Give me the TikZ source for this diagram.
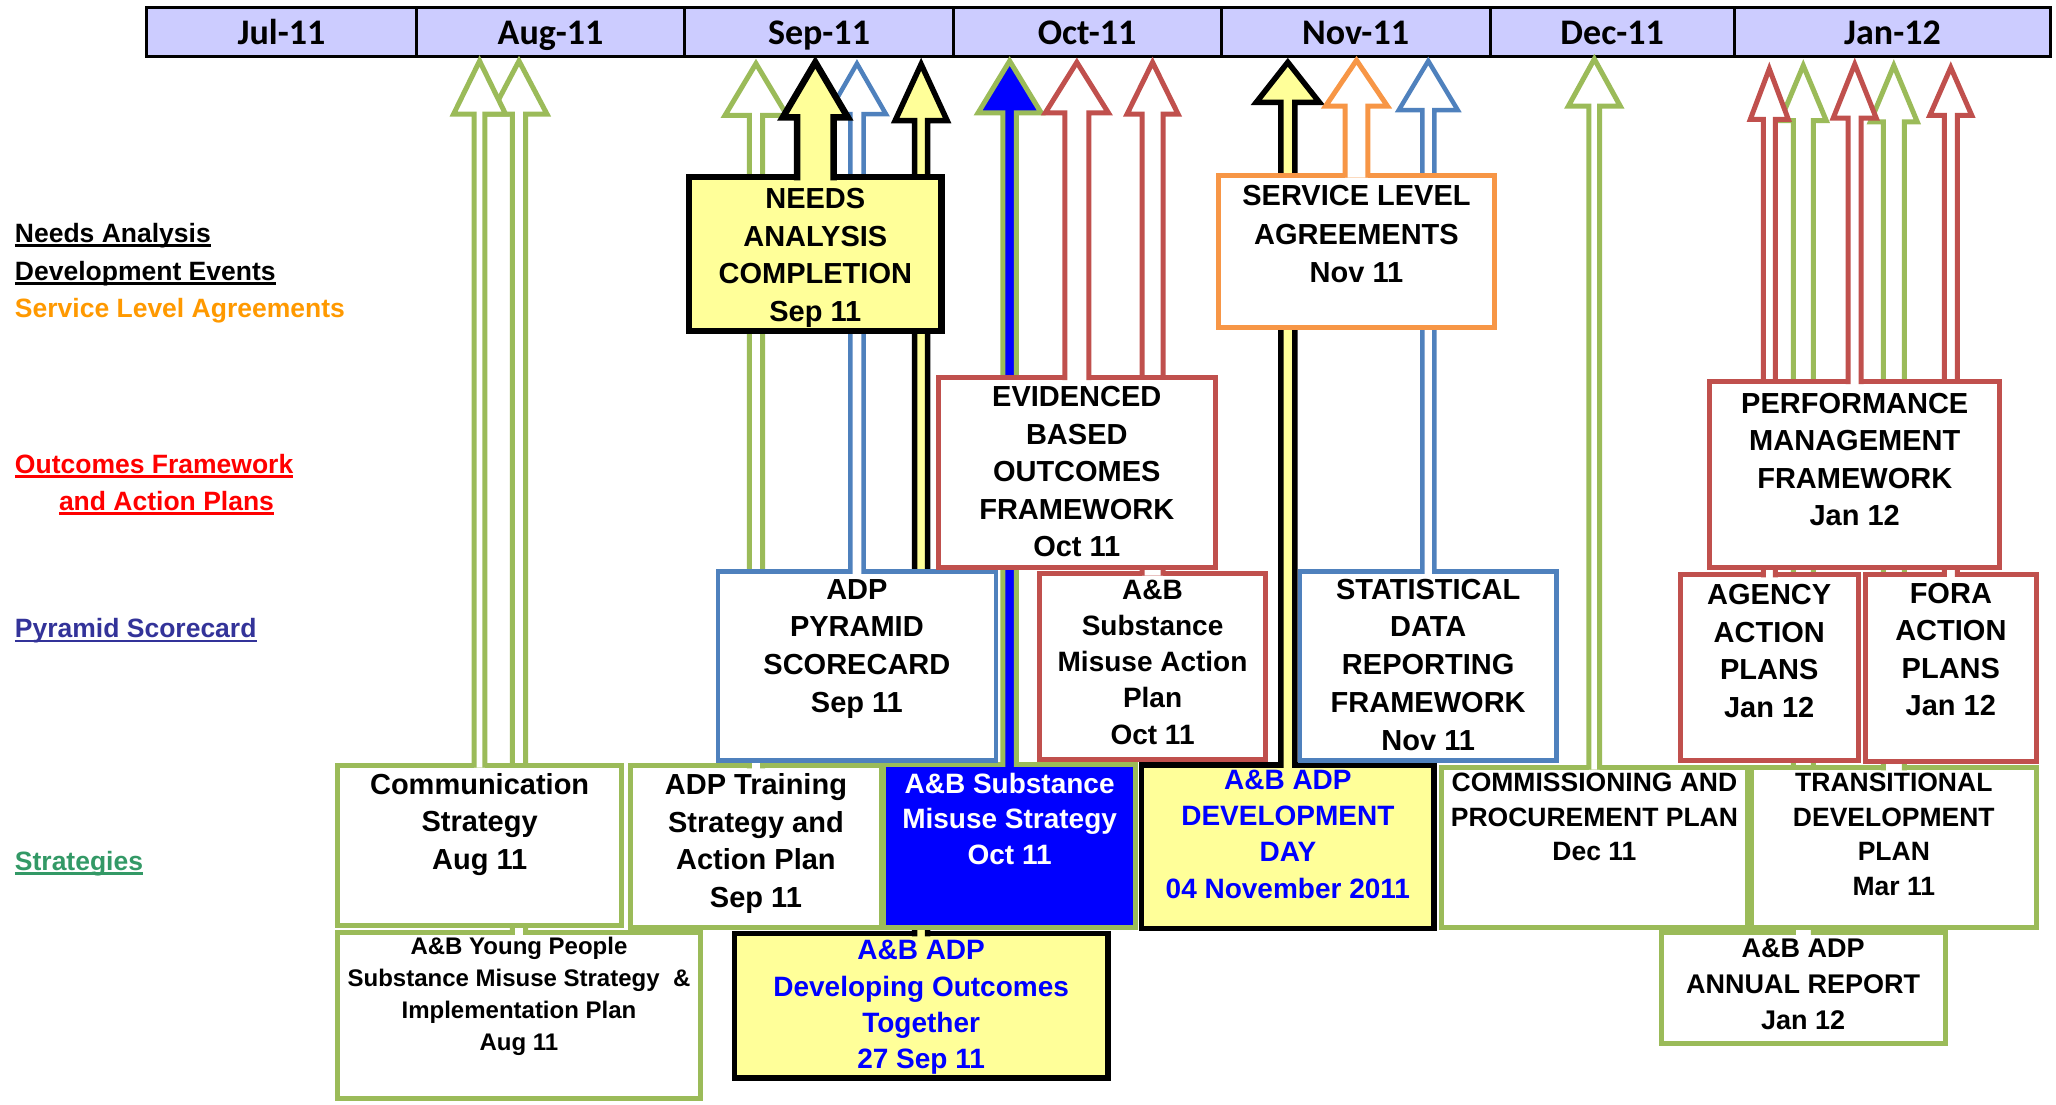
\documentclass[tikz,border=0pt]{standalone}
\usepackage{fontspec}
\setmainfont{Liberation Sans}
\newfontfamily\hdrfont{Carlito}
\usetikzlibrary{calc}
\definecolor{hdrfill}{HTML}{CCCCFF}
\definecolor{ogreen}{HTML}{9BBB59}
\definecolor{oblue}{HTML}{4F81BD}
\definecolor{ored}{HTML}{C0504D}
\definecolor{oorange}{HTML}{F79646}
\definecolor{yel}{HTML}{FFFF99}
\definecolor{pblue}{HTML}{0000FF}
\definecolor{lblorange}{HTML}{FF9900}
\definecolor{lblred}{HTML}{FF0000}
\definecolor{lblblue}{HTML}{333399}
\definecolor{lblgreen}{HTML}{339966}
\tikzset{
  cellbox/.style={draw=black, line width=3pt, fill=hdrfill},
  gbox/.style={draw=ogreen, line width=5pt, fill=white},
  bbox/.style={draw=oblue, line width=4.5pt, fill=white},
  rbox/.style={draw=ored, line width=5pt, fill=white},
  obox/.style={draw=oorange, line width=5pt, fill=white},
  ybox/.style={draw=black, line width=5.5pt, fill=yel},
  nabox/.style={draw=black, line width=6.5pt, fill=yel},
  sbox/.style={draw=ogreen, line width=5pt, fill=pblue},
  garr/.style={draw=ogreen, line width=5pt, fill=white},
  barr/.style={draw=oblue, line width=4.5pt, fill=white},
  rarr/.style={draw=ored, line width=5pt, fill=white},
  oarr/.style={draw=oorange, line width=5pt, fill=white},
  karr/.style={draw=black, line width=5.5pt, fill=yel},
  naarr/.style={draw=black, line width=6.5pt, fill=yel},
  sarr/.style={draw=ogreen, line width=5pt, fill=pblue},
  lbl/.style={anchor=base west, inner sep=0pt, outer sep=0pt, font=\bfseries\fontsize{26.5}{30}\selectfont},
  uline/.style={line width=2.5pt},
  month/.style={anchor=base, inner sep=0pt, outer sep=0pt, font=\hdrfont\bfseries\fontsize{36}{40}\selectfont},
}
% box: name x1 y1 x2 y2 style
\newcommand\mybox[6]{\node[#6, rectangle, inner sep=0pt, outer sep=0pt, minimum width={(#4-#2)*1.3112pt}, minimum height={(#5-#3)*1.3112pt}] (#1) at ({(#2+#4)/2},{(#3+#5)/2}) {};}
% text: name x firstbaseline size skip colour text
\newcommand\mytext[7]{\node[inner sep=0pt, outer sep=0pt, anchor=north, align=center, text=#6, font=\bfseries\fontsize{#4}{#5}\selectfont, yshift={0.76*#4pt}] (#1) at (#2,#3) {\rule{0pt}{.76em}#7};}
% block arrow: node, shaft half (pt), head half (pt), vertex y, base y, style, half line width (pt)
\newcommand\myarrow[7]{\path[#6] let \p1=(#1.north) in
  ({\x1-#2pt},{\y1-#7pt}) -- ({\x1-#2pt},{-#5*1.3112pt}) -- ({\x1-#3pt},{-#5*1.3112pt}) -- (\x1,{-#4*1.3112pt}) -- ({\x1+#3pt},{-#5*1.3112pt}) -- ({\x1+#2pt},{-#5*1.3112pt}) -- ({\x1+#2pt},{\y1-#7pt});}
\begin{document}
\begin{tikzpicture}[x=1.3112pt,y=-1.3112pt]
\useasboundingbox (0,0) rectangle (1568,842);
% ---- header
\mybox{m1}{112}{6}{317.3}{43}{cellbox}
\mybox{m2}{317.3}{6}{522.4}{43}{cellbox}
\mybox{m3}{522.4}{6}{726.8}{43}{cellbox}
\mybox{m4}{726.8}{6}{931.2}{43}{cellbox}
\mybox{m5}{931.2}{6}{1136.4}{43}{cellbox}
\mybox{m6}{1136.4}{6}{1322.5}{43}{cellbox}
\mybox{m7}{1322.5}{6}{1564}{43}{cellbox}
\node[month] (t1) at (214.7,34.3) {Jul-11};
\node[month] (t2) at (419.9,34.3) {Aug-11};
\node[month] (t3) at (624.6,34.3) {Sep-11};
\node[month] (t4) at (829,34.3) {Oct-11};
\node[month] (t5) at (1033.8,34.3) {Nov-11};
\node[month] (t6) at (1229.5,34.3) {Dec-11};
\node[month] (t7) at (1443.3,34.3) {Jan-12};
% ---- bottom layer
\mybox{R}{257.6}{711}{534}{838}{gbox}
\mytext{Rt}{395.8}{728}{24}{32}{black}{A\&B Young People\\Substance Misuse Strategy\ \ \&\\Implementation Plan\\Aug 11}
\mybox{Q}{560}{712}{845}{822}{ybox}
\mytext{Qt}{702.5}{732}{28}{36.3}{pblue}{A\&B ADP\\Developing Outcomes\\Together\\27 Sep 11}
\mybox{P}{1267}{711}{1483.5}{796}{gbox}
\mytext{Pt}{1375.2}{730}{27}{36}{black}{A\&B ADP\\ANNUAL REPORT\\Jan 12}
\myarrow{R}{6.7}{28}{46.5}{87}{garr}{2.5}
\myarrow{Q}{6.5}{26}{49}{92}{karr}{2.75}
\myarrow{P}{10}{23}{50}{92}{garr}{2.5}
% ---- strategies row
\mybox{D}{257.5}{583.5}{474}{706}{gbox}
\mytext{Dt}{365.8}{605.6}{29}{37.6}{black}{Communication\\Strategy\\Aug 11}
\mybox{C}{480.5}{584}{672.6}{707}{gbox}
\mytext{Ct}{576.5}{606}{29}{37.6}{black}{ADP Training\\Strategy and\\Action Plan\\Sep 11}
\mybox{E}{674}{583}{866}{707}{sbox}
\mytext{Et}{770}{605}{28}{35.5}{white}{A\&B Substance\\Misuse Strategy\\Oct 11}
\mybox{H}{870.6}{583.5}{1093.7}{708}{ybox}
\mytext{Ht}{982.2}{602}{28}{36.3}{pblue}{A\&B ADP\\DEVELOPMENT\\DAY\\04 November 2011}
\mybox{K}{1099}{585}{1332.8}{707}{gbox}
\mytext{Kt}{1216}{604}{26.5}{34.5}{black}{COMMISSIONING AND\\PROCUREMENT PLAN\\Dec 11}
\mybox{L}{1335.6}{585.7}{1553}{707}{gbox}
\mytext{Lt}{1444.3}{604}{26.5}{34.5}{black}{TRANSITIONAL\\DEVELOPMENT\\PLAN\\Mar 11}
\myarrow{D}{5.4}{26}{46.5}{87}{garr}{2.5}
\myarrow{C}{6.7}{31}{48.5}{88}{garr}{2.5}
\myarrow{E}{6.7}{31.5}{46.5}{86}{sarr}{2.5}
\myarrow{H}{7}{31.5}{47.5}{78}{karr}{2.75}
\myarrow{K}{5.4}{26}{45}{81}{garr}{2.5}
\myarrow{L}{10.5}{23.5}{50}{93}{garr}{2.5}
% ---- middle row
\mybox{B}{547.5}{436}{759.6}{580}{bbox}
\mytext{Bt}{653.5}{457}{29}{37.6}{black}{ADP\\PYRAMID\\SCORECARD\\Sep 11}
\mybox{G}{793}{437}{965}{579}{rbox}
\mytext{Gt}{879}{457}{28}{36.2}{black}{A\&B\\Substance\\Misuse Action\\Plan\\Oct 11}
\mybox{J}{991.5}{436}{1187}{580}{bbox}
\mytext{Jt}{1089.2}{457}{29}{37.7}{black}{STATISTICAL\\DATA\\REPORTING\\FRAMEWORK\\Nov 11}
\mybox{N}{1281.7}{438.5}{1417}{580}{rbox}
\mytext{Nt}{1349.3}{461}{29}{37.6}{black}{AGENCY\\ACTION\\PLANS\\Jan 12}
\mybox{O}{1422.5}{438}{1553}{580.6}{rbox}
\mytext{Ot}{1487.8}{460}{29}{37.6}{black}{FORA\\ACTION\\PLANS\\Jan 12}
\myarrow{B}{6.7}{29}{48.5}{87}{barr}{2.25}
\myarrow{G}{10.5}{25.5}{47.5}{87}{rarr}{2.5}
\myarrow{J}{6}{29.5}{46.5}{84}{barr}{2.25}
\myarrow{N}{6}{19}{52.5}{91}{rarr}{2.5}
\myarrow{O}{6.5}{21}{51.5}{88}{rarr}{2.5}
% ---- top row
\mybox{A}{525.6}{135}{718}{252.4}{nabox}
\mytext{At}{621.8}{159}{29}{37.6}{black}{NEEDS\\ANALYSIS\\COMPLETION\\Sep 11}
\mybox{F}{715.5}{288}{927}{433}{rbox}
\mytext{Ft}{821.2}{310}{29}{37.6}{black}{EVIDENCED\\BASED\\OUTCOMES\\FRAMEWORK\\Oct 11}
\mybox{I}{929.6}{133.5}{1139.5}{249.6}{obox}
\mytext{It}{1034.5}{157}{29}{38.5}{black}{SERVICE LEVEL\\AGREEMENTS\\Nov 11}
\mybox{M}{1304}{291}{1525}{432.6}{rbox}
\mytext{Mt}{1414.5}{315}{29}{37.6}{black}{PERFORMANCE\\MANAGEMENT\\FRAMEWORK\\Jan 12}
\myarrow{A}{18.3}{32.5}{47.5}{89.5}{naarr}{3.25}
\myarrow{F}{12}{31.5}{47.5}{86}{rarr}{2.5}
\myarrow{I}{11.3}{31}{46}{81}{oarr}{2.5}
\myarrow{M}{6.5}{21.5}{49}{90}{rarr}{2.5}
% ---- left labels
\node[lbl] (l1) at (11.4,184.6) {Needs Analysis};
\node[lbl] (l2) at (11.4,213.6) {Development Events};
\node[lbl, text=lblorange] (l3) at (11.4,242.5) {Service Level Agreements};
\node[lbl, text=lblred] (l4) at (11.4,360.8) {Outcomes Framework};
\node[lbl, text=lblred] (l5) at (45,389) {and Action Plans};
\node[lbl, text=lblblue] (l6) at (11.4,486) {Pyramid Scorecard};
\node[lbl, text=lblgreen] (l7) at (11.4,663.5) {Strategies};
\draw[uline, black] ([yshift=-3.5pt]l1.base west) -- ([yshift=-3.5pt]l1.base east);
\draw[uline, black] ([yshift=-3.5pt]l2.base west) -- ([yshift=-3.5pt]l2.base east);
\draw[uline, lblred] ([yshift=-3.5pt]l4.base west) -- ([yshift=-3.5pt]l4.base east);
\draw[uline, lblred] ([yshift=-3.5pt]l5.base west) -- ([yshift=-3.5pt]l5.base east);
\draw[uline, lblblue] ([yshift=-3.5pt]l6.base west) -- ([yshift=-3.5pt]l6.base east);
\draw[uline, lblgreen] ([yshift=-3.5pt]l7.base west) -- ([yshift=-3.5pt]l7.base east);
\end{tikzpicture}
\end{document}
